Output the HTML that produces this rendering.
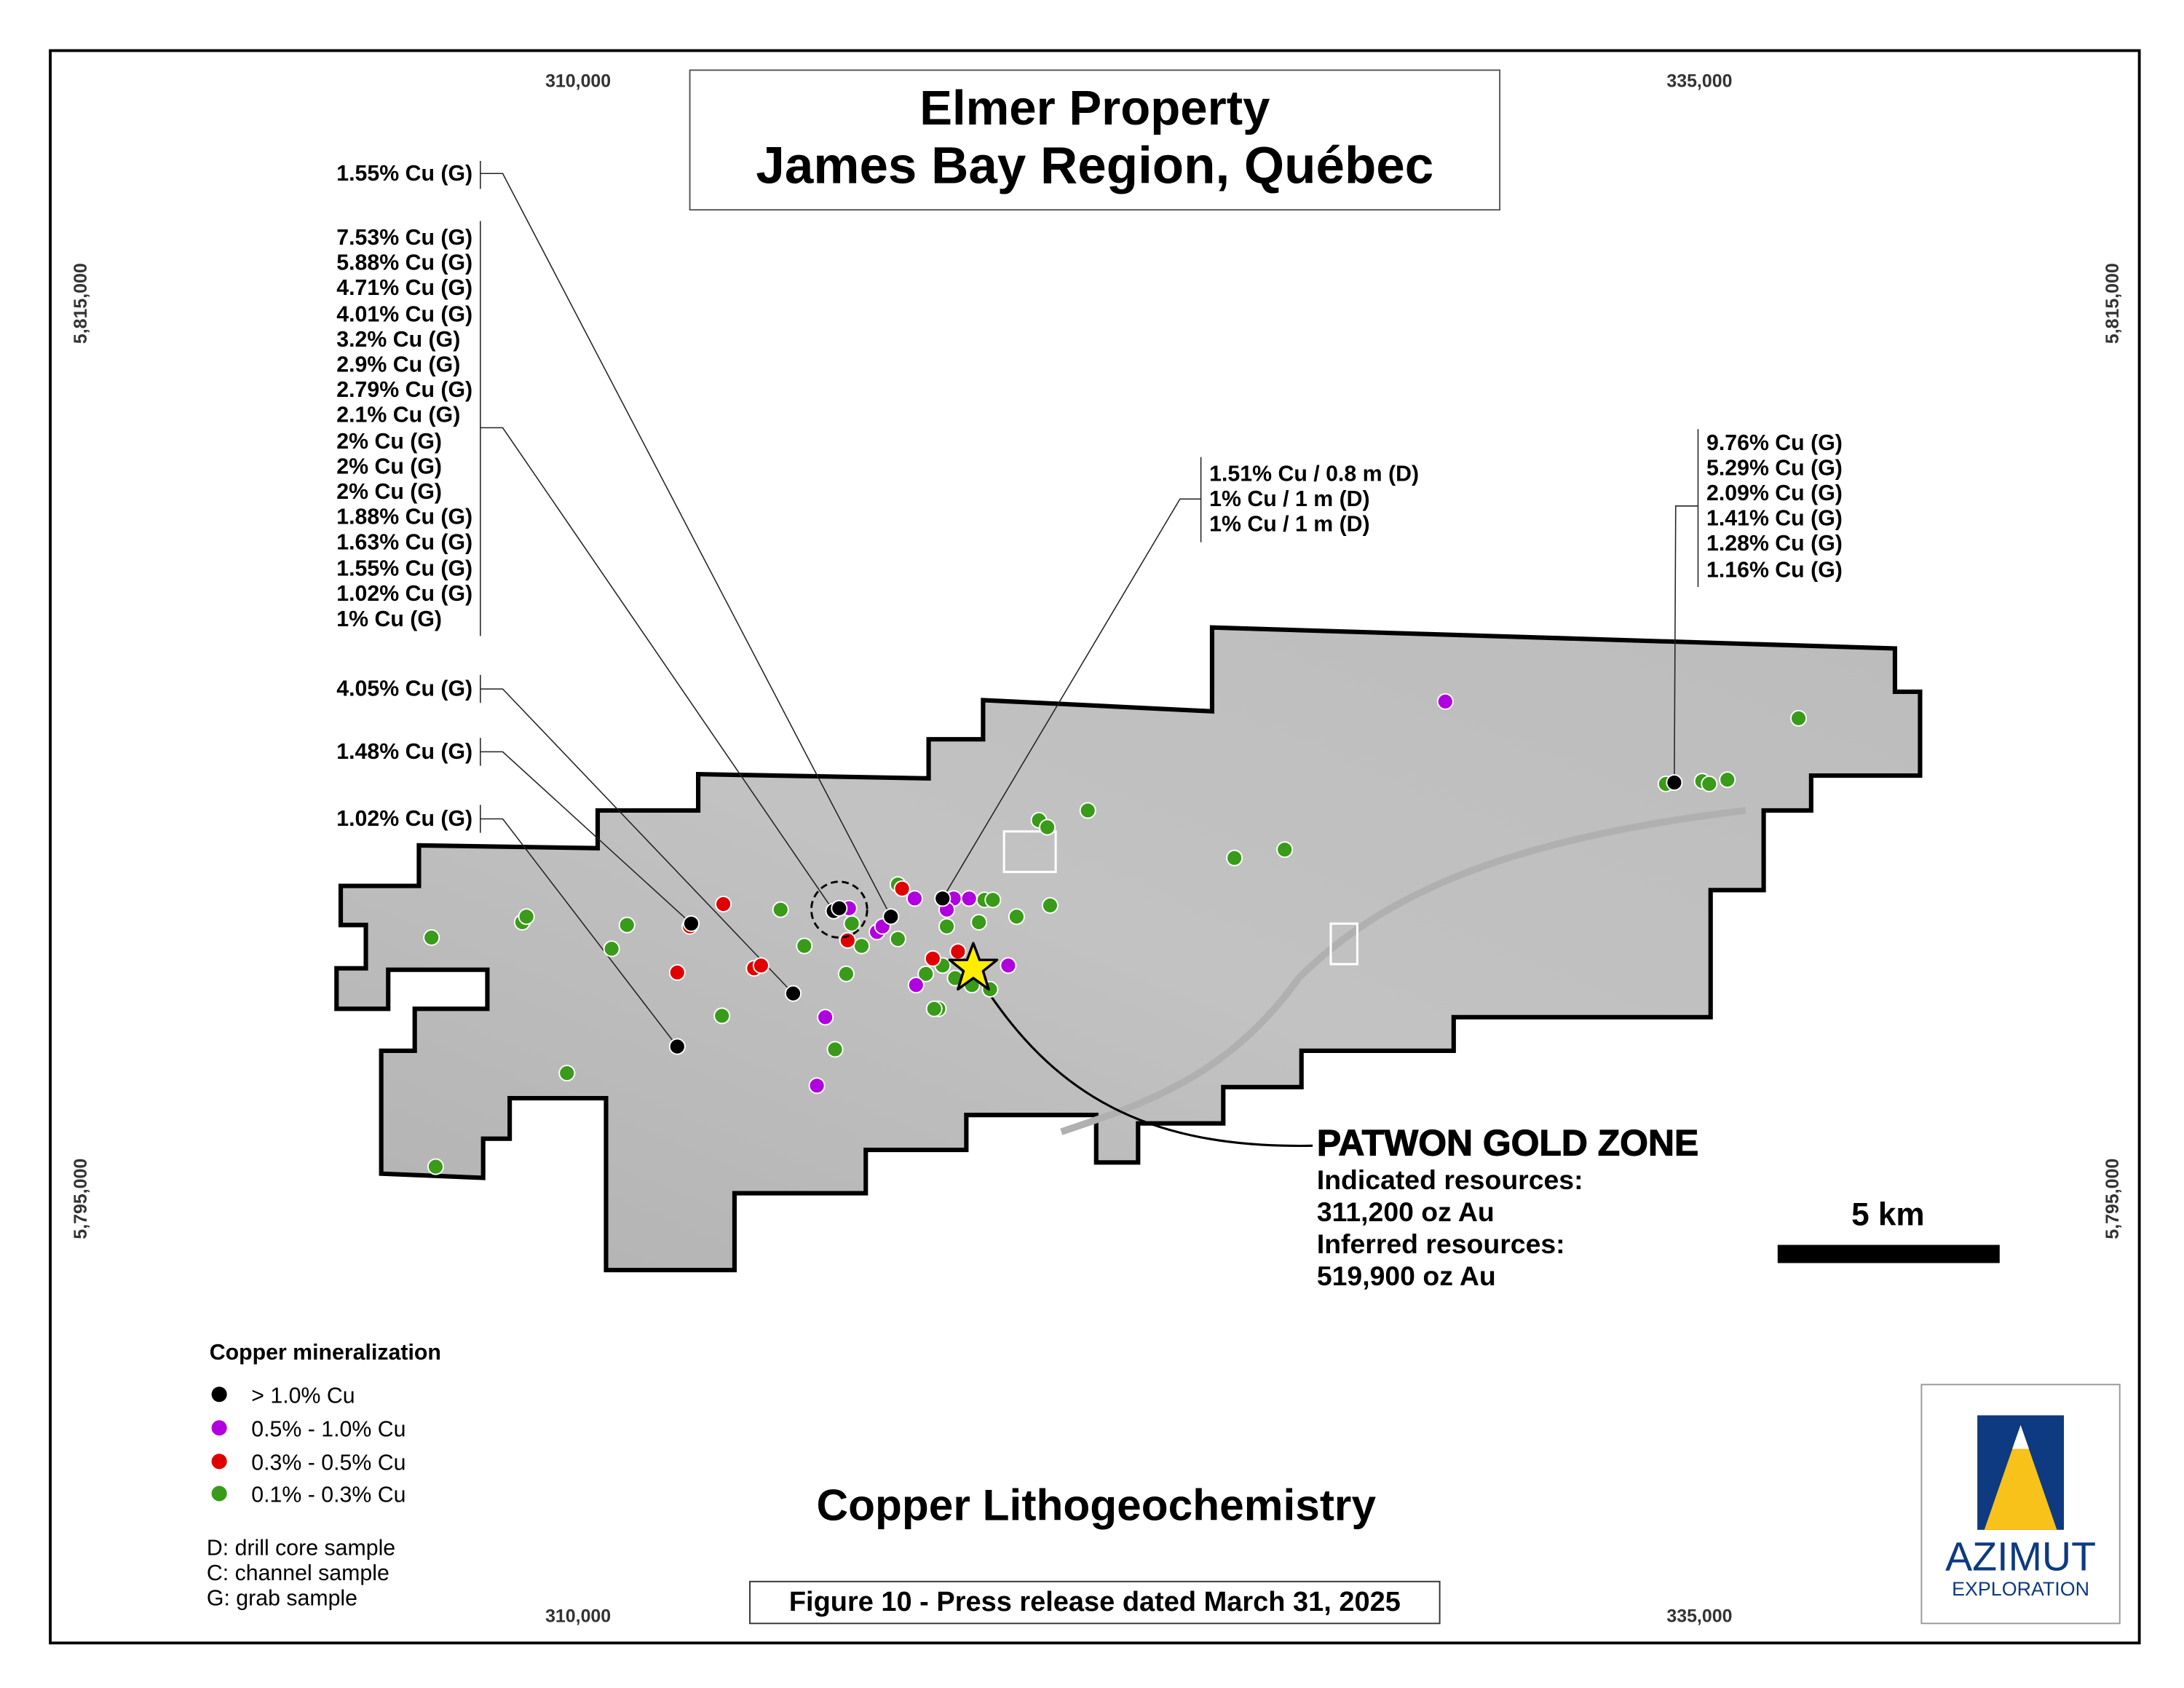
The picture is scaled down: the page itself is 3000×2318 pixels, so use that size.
<!DOCTYPE html>
<html><head><meta charset="utf-8"><style>
html,body{margin:0;padding:0;background:#fff}
svg{display:block}
text{font-family:"Liberation Sans",sans-serif}
</style></head><body>
<svg width="3000" height="2318" viewBox="0 0 1564 1208" xmlns="http://www.w3.org/2000/svg">
<rect width="1564" height="1208" fill="#fff"/>
<rect x="36" y="36" width="1496" height="1140" fill="none" stroke="#000" stroke-width="2"/>
<g font-size="13" font-weight="bold" fill="#333" text-anchor="middle">
<text x="414" y="62">310,000</text><text x="1217" y="62">335,000</text>
<text x="414" y="1161">310,000</text><text x="1217" y="1161">335,000</text>
<text transform="translate(62,217) rotate(-90)">5,815,000</text>
<text transform="translate(62,858) rotate(-90)">5,795,000</text>
<text transform="translate(1517,217) rotate(-90)">5,815,000</text>
<text transform="translate(1517,858) rotate(-90)">5,795,000</text>
</g>
<rect x="494" y="50" width="580" height="100" fill="#fff" stroke="#555" stroke-width="1"/>
<g font-weight="bold" text-anchor="middle" fill="#000">
<text x="784" y="89" font-size="35">Elmer Property</text>
<text x="784" y="131" font-size="37">James Bay Region, Québec</text>
</g>
<defs>
<linearGradient id="g" x1="0" y1="1" x2="1" y2="0">
<stop offset="0" stop-color="#b2b2b2"/><stop offset="0.5" stop-color="#c2c2c2"/><stop offset="1" stop-color="#bcbcbc"/>
</linearGradient>
</defs>
<polygon points="244,634 300,634 300,605 428,607 428,580 500,580 500,554 665,557 665,529 704,529 704,501 868,509 868,449 1357,464 1357,495 1375,495 1375,555 1297,555 1297,580 1263,580 1263,637 1225,637 1225,728 1041,728 1041,752 932,752 932,778 876,778 876,804 815,804 815,832 785,832 785,798 692,798 692,823 620,823 620,854 526,854 526,909 434,909 434,786 365,786 365,815 346,815 346,843 273,840 273,752 297,752 297,722 349,722 349,694 278,694 278,722 241,722 241,693 262,693 262,662 244,662" fill="url(#g)" stroke="#000" stroke-width="3.2" stroke-linejoin="miter"/>
<path d="M760,810 C820,790 880,770 930,700 C990,640 1080,600 1250,580" fill="none" stroke="#b0b0b0" stroke-width="5"/>
<rect x="719" y="595" width="37" height="29" fill="none" stroke="#fff" stroke-width="1.6"/>
<rect x="953" y="661" width="19" height="29" fill="none" stroke="#fff" stroke-width="1.6"/>
<g fill="none" stroke="#222" stroke-width="0.8">
<path d="M344,115V135M344,124H360L638,656"/>
<path d="M344,158V455M344,306H360L597,652"/>
<path d="M344,483V503M344,493H360L568,711"/>
<path d="M344,528V548M344,538H360L495,661"/>
<path d="M344,576V596M344,586H360L485,749"/>
<path d="M860,327V388M860,357H845L675,643"/>
<path d="M1216,307V420M1216,362H1200L1199,560"/>
</g>
<path d="M705,706 C760,790 830,822 940,820" fill="none" stroke="#000" stroke-width="1.6"/>
<g stroke="#fff" stroke-width="1">
<g fill="#3a9a1a">
<circle cx="1288" cy="514" r="5.5"/><circle cx="1193" cy="561" r="5.5"/><circle cx="1219" cy="559" r="5.5"/><circle cx="1224" cy="561" r="5.5"/><circle cx="1237" cy="558" r="5.5"/><circle cx="744" cy="587" r="5.5"/><circle cx="750" cy="592" r="5.5"/><circle cx="779" cy="580" r="5.5"/><circle cx="884" cy="614" r="5.5"/><circle cx="920" cy="608" r="5.5"/><circle cx="309" cy="671" r="5.5"/><circle cx="374" cy="660" r="5.5"/><circle cx="377" cy="656" r="5.5"/><circle cx="449" cy="662" r="5.5"/><circle cx="438" cy="679" r="5.5"/><circle cx="559" cy="651" r="5.5"/><circle cx="576" cy="677" r="5.5"/><circle cx="606" cy="697" r="5.5"/><circle cx="617" cy="677" r="5.5"/><circle cx="643" cy="672" r="5.5"/><circle cx="643" cy="633" r="5.5"/><circle cx="705" cy="644" r="5.5"/><circle cx="711" cy="644" r="5.5"/><circle cx="701" cy="660" r="5.5"/><circle cx="678" cy="663" r="5.5"/><circle cx="728" cy="656" r="5.5"/><circle cx="752" cy="648" r="5.5"/><circle cx="610" cy="661" r="5.5"/><circle cx="663" cy="697" r="5.5"/><circle cx="675" cy="691" r="5.5"/><circle cx="684" cy="700" r="5.5"/><circle cx="709" cy="708" r="5.5"/><circle cx="672" cy="722" r="5.5"/><circle cx="669" cy="722" r="5.5"/><circle cx="517" cy="727" r="5.5"/><circle cx="598" cy="751" r="5.5"/><circle cx="406" cy="768" r="5.5"/><circle cx="312" cy="835" r="5.5"/><circle cx="696" cy="705" r="5.5"/>
</g>
<g fill="#e00000">
<circle cx="518" cy="647" r="5.5"/><circle cx="646" cy="636" r="5.5"/><circle cx="607" cy="673" r="5.5"/><circle cx="668" cy="686" r="5.5"/><circle cx="686" cy="681" r="5.5"/><circle cx="485" cy="696" r="5.5"/><circle cx="540" cy="693" r="5.5"/><circle cx="545" cy="691" r="5.5"/><circle cx="494" cy="663" r="5.5"/>
</g>
<g fill="#b000e0">
<circle cx="1035" cy="502" r="5.5"/><circle cx="608" cy="650" r="5.5"/><circle cx="655" cy="643" r="5.5"/><circle cx="683" cy="643" r="5.5"/><circle cx="694" cy="643" r="5.5"/><circle cx="678" cy="651" r="5.5"/><circle cx="628" cy="667" r="5.5"/><circle cx="632" cy="663" r="5.5"/><circle cx="656" cy="705" r="5.5"/><circle cx="722" cy="691" r="5.5"/><circle cx="591" cy="728" r="5.5"/><circle cx="585" cy="777" r="5.5"/>
</g>
<g fill="#000">
<circle cx="597" cy="652" r="5.5"/><circle cx="601" cy="650" r="5.5"/><circle cx="638" cy="656" r="5.5"/><circle cx="675" cy="643" r="5.5"/><circle cx="495" cy="661" r="5.5"/><circle cx="568" cy="711" r="5.5"/><circle cx="485" cy="749" r="5.5"/><circle cx="1199" cy="560" r="5.5"/>
</g>
</g>
<circle cx="601" cy="651" r="20" fill="none" stroke="#000" stroke-width="1.5" stroke-dasharray="5,3"/>
<polygon points="697,675 701.5,687 714,687 704,695 708,708 697,700 686,708 690,695 680,687 692.5,687" fill="#ffee00" stroke="#000" stroke-width="1.8" stroke-linejoin="round"/>
<g font-size="15.8" font-weight="bold" fill="#000">
<text x="241" y="129">1.55% Cu (G)</text>
<text x="241" y="175">7.53% Cu (G)</text><text x="241" y="193">5.88% Cu (G)</text><text x="241" y="211">4.71% Cu (G)</text><text x="241" y="230">4.01% Cu (G)</text><text x="241" y="248">3.2% Cu (G)</text><text x="241" y="266">2.9% Cu (G)</text><text x="241" y="284">2.79% Cu (G)</text><text x="241" y="302">2.1% Cu (G)</text><text x="241" y="321">2% Cu (G)</text><text x="241" y="339">2% Cu (G)</text><text x="241" y="357">2% Cu (G)</text><text x="241" y="375">1.88% Cu (G)</text><text x="241" y="393">1.63% Cu (G)</text><text x="241" y="412">1.55% Cu (G)</text><text x="241" y="430">1.02% Cu (G)</text><text x="241" y="448">1% Cu (G)</text>
<text x="241" y="498">4.05% Cu (G)</text>
<text x="241" y="543">1.48% Cu (G)</text>
<text x="241" y="591">1.02% Cu (G)</text>
<text x="866" y="344">1.51% Cu / 0.8 m (D)</text><text x="866" y="362">1% Cu / 1 m (D)</text><text x="866" y="380">1% Cu / 1 m (D)</text>
<text x="1222" y="322">9.76% Cu (G)</text><text x="1222" y="340">5.29% Cu (G)</text><text x="1222" y="358">2.09% Cu (G)</text><text x="1222" y="376">1.41% Cu (G)</text><text x="1222" y="394">1.28% Cu (G)</text><text x="1222" y="413">1.16% Cu (G)</text>
</g>
<text x="943" y="827" font-size="26" font-weight="900" fill="#000" stroke="#000" stroke-width="0.6">PATWON GOLD ZONE</text>
<g font-size="19.5" font-weight="bold" fill="#000">
<text x="943" y="851">Indicated resources:</text><text x="943" y="874">311,200 oz Au</text>
<text x="943" y="897">Inferred resources:</text><text x="943" y="920">519,900 oz Au</text>
</g>
<text x="1352" y="877" font-size="23" font-weight="bold" text-anchor="middle">5 km</text>
<rect x="1273" y="891" width="159" height="13" fill="#000"/>
<text x="150" y="973" font-size="15.8" font-weight="bold">Copper mineralization</text>
<circle cx="157" cy="998" r="5.5" fill="#000"/><circle cx="157" cy="1022" r="5.5" fill="#b000e0"/><circle cx="157" cy="1046" r="5.5" fill="#e00000"/><circle cx="157" cy="1069" r="5.5" fill="#3a9a1a"/>
<g font-size="15.8" fill="#000">
<text x="180" y="1004">&gt; 1.0% Cu</text><text x="180" y="1028">0.5% - 1.0% Cu</text><text x="180" y="1052">0.3% - 0.5% Cu</text><text x="180" y="1075">0.1% - 0.3% Cu</text>
<text x="148" y="1113">D: drill core sample</text><text x="148" y="1131">C: channel sample</text><text x="148" y="1149">G: grab sample</text>
</g>
<text x="785" y="1088" font-size="31.5" font-weight="bold" text-anchor="middle">Copper Lithogeochemistry</text>
<rect x="537" y="1132" width="494" height="30" fill="#fff" stroke="#333" stroke-width="1"/>
<text x="784" y="1153" font-size="19.8" font-weight="bold" text-anchor="middle">Figure 10 - Press release dated March 31, 2025</text>
<rect x="1376" y="991" width="142" height="171" fill="#fff" stroke="#999" stroke-width="1"/>
<rect x="1416" y="1013" width="62" height="82" fill="#0d3a80"/>
<polygon points="1447,1020 1421,1095 1473,1095" fill="#f8c21a"/>
<polygon points="1447,1020 1441,1037 1453,1037" fill="#fff"/>
<text x="1447" y="1124" font-size="29" text-anchor="middle" fill="#0d3a80">AZIMUT</text>
<text x="1447" y="1142" font-size="14" text-anchor="middle" fill="#0d3a80">EXPLORATION</text>
</svg>
</body></html>
